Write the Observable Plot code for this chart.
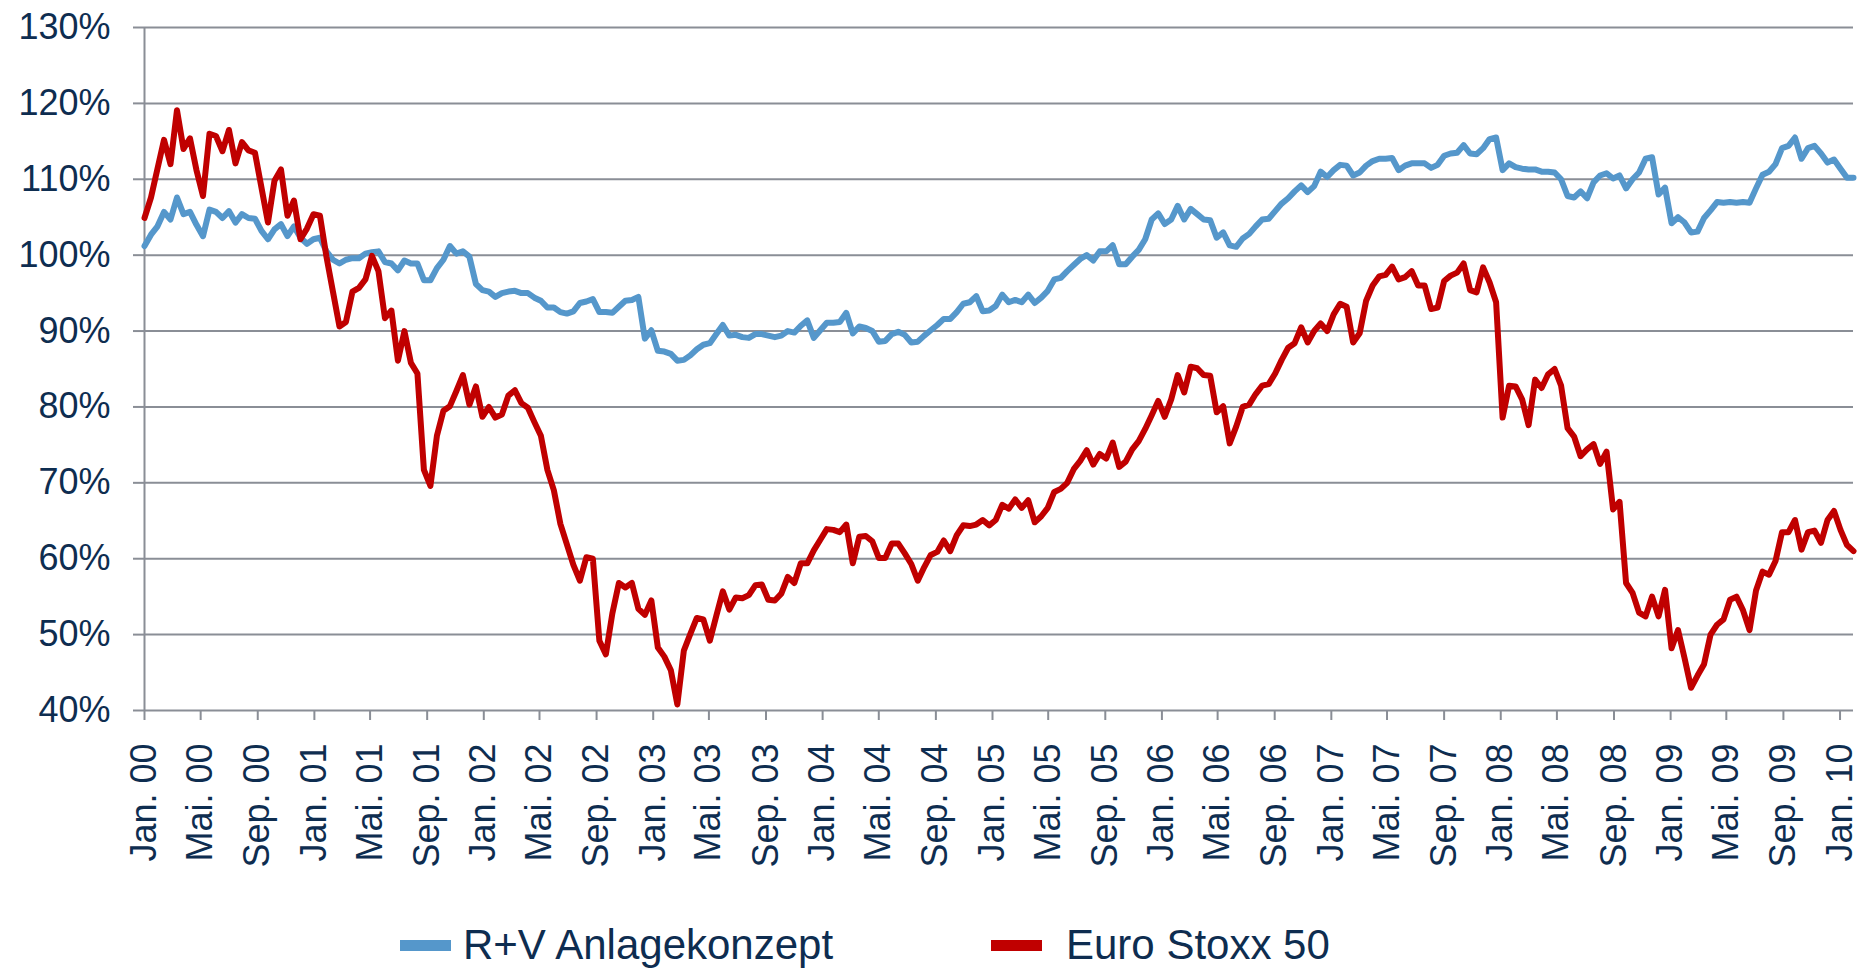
<!DOCTYPE html>
<html>
<head>
<meta charset="utf-8">
<script src="https://cdn.jsdelivr.net/npm/d3@7"></script>
<script src="https://cdn.jsdelivr.net/npm/@observablehq/plot@0.6"></script>
<style>
  html, body { margin: 0; padding: 0; background: #ffffff; }
  #chart { width: 1872px; }
  #legend { position: relative; width: 1872px; height: 50px; font-family: "Liberation Sans", Arial, sans-serif; font-size: 42px; color: #0e2d50; }
  .item { position: absolute; top: 0; height: 50px; display: flex; align-items: center; white-space: nowrap; }
  .sw { display: inline-block; width: 51px; height: 11px; }
</style>
</head>
<body>
<div id="chart"></div>
<div id="legend">
  <div class="item" style="left:400px"><span class="sw" style="background:#5597cb"></span><span style="margin-left:12px">R+V Anlagekonzept</span></div>
  <div class="item" style="left:991px"><span class="sw" style="background:#c00000"></span><span style="margin-left:24px">Euro Stoxx 50</span></div>
</div>
<script>
// Series: biweekly observations starting January 2000 (values in %)
const seriesNames = ["R+V Anlagekonzept", "Euro Stoxx 50"];
const startDate = "2000-01-01";
const stepDays = 14;

const rv = [
101.2,102.7,103.8,105.7,104.7,107.6,105.4,105.7,104,102.5,
106,105.7,104.9,105.8,104.3,105.4,104.9,104.8,103.2,102.1,
103.4,104.1,102.5,103.8,102.3,101.5,102.1,102.3,100.5,99.4,
98.9,99.4,99.6,99.6,100.2,100.4,100.5,99.1,98.9,98,
99.3,98.9,98.9,96.7,96.7,98.3,99.4,101.2,100.2,100.5,
99.8,96.2,95.4,95.2,94.5,95,95.2,95.3,95,95,
94.4,94,93.1,93.1,92.5,92.3,92.6,93.7,93.9,94.2,
92.5,92.5,92.4,93.2,94,94.1,94.5,89,90.1,87.4,
87.3,87,86.1,86.2,86.8,87.6,88.2,88.4,89.6,90.8,
89.4,89.5,89.2,89.1,89.6,89.6,89.4,89.2,89.4,90,
89.8,90.7,91.4,89.1,90.1,91.1,91.1,91.2,92.4,89.7,
90.6,90.4,90,88.6,88.7,89.6,89.9,89.5,88.5,88.6,
89.4,90.1,90.8,91.6,91.6,92.5,93.6,93.8,94.6,92.6,
92.7,93.3,94.8,93.8,94.1,93.8,94.8,93.7,94.4,95.3,
96.8,97,97.9,98.7,99.5,100,99.3,100.5,100.5,101.3,
98.8,98.8,99.8,100.7,102.1,104.7,105.5,104.1,104.7,106.5,
104.7,106.1,105.4,104.7,104.6,102.3,103,101.3,101.1,102.2,
102.8,103.8,104.7,104.8,105.8,106.8,107.5,108.4,109.2,108.3,
109.1,111,110.3,111.2,111.9,111.8,110.5,110.9,111.8,112.4,
112.7,112.7,112.8,111.2,111.8,112.1,112.1,112.1,111.5,111.9,
113.1,113.4,113.5,114.5,113.4,113.3,114.1,115.3,115.5,111.2,
112.1,111.6,111.4,111.3,111.3,111,111,110.9,110,107.8,
107.6,108.4,107.5,109.6,110.5,110.8,110.1,110.5,108.8,110,
110.9,112.7,112.9,108,108.9,104.2,105,104.3,103,103.1,
104.9,105.9,107,106.9,107,106.9,107,106.9,108.8,110.6,
111,112,114.1,114.4,115.5,112.7,114.1,114.4,113.4,112.2,
112.6,111.4,110.2,110.2
];

const es = [
104.9,107.6,111.4,115.2,112,119.1,114,115.4,111.2,107.8,
116,115.7,113.7,116.5,112.1,114.9,113.8,113.5,108.9,104.3,
109.8,111.3,105.2,107.2,102.1,103.5,105.4,105.2,99.8,95.2,
90.6,91.2,95.2,95.7,96.8,99.9,97.9,91.7,92.7,86.1,
90,85.8,84.4,71.7,69.6,76.2,79.5,80.1,82.1,84.2,
80.3,82.7,78.7,80,78.6,79,81.5,82.2,80.5,79.9,
78,76.2,71.7,69,64.6,61.9,59.2,57.1,60.2,60,
49.2,47.4,52.8,56.8,56.2,56.8,53.4,52.6,54.5,48.3,
47.1,45.3,40.8,47.9,50.1,52.2,52,49.2,52.5,55.7,
53.3,54.9,54.8,55.2,56.5,56.6,54.6,54.5,55.4,57.6,
56.8,59.4,59.4,61.1,62.5,63.9,63.8,63.5,64.5,59.4,
62.9,63,62.3,60.1,60.1,62,62,60.7,59.3,57.1,
58.9,60.5,60.9,62.4,61,63.1,64.4,64.3,64.5,65.1,
64.4,65.1,67.1,66.6,67.8,66.7,67.7,64.8,65.6,66.7,
68.8,69.2,70,71.8,72.9,74.3,72.4,73.8,73.2,75.3,
72.1,72.8,74.4,75.5,77.1,78.9,80.8,78.7,81,84.2,
81.9,85.3,85.1,84.2,84.1,79.3,80.1,75.2,77.4,80,
80.3,81.7,82.8,83,84.4,86.2,87.8,88.4,90.5,88.5,
90,91,90,92.2,93.6,93.2,88.5,89.7,94,96,
97.2,97.4,98.5,96.8,97.1,97.9,96,96,92.9,93.1,
96.6,97.3,97.7,98.9,95.4,95.1,98.4,96.4,93.8,78.6,
82.8,82.7,81,77.6,83.6,82.5,84.3,85,82.8,77.2,
76.1,73.5,74.4,75.1,72.5,74.1,66.5,67.5,56.8,55.5,
52.9,52.4,55,52.4,55.9,48.2,50.6,46.9,43,44.6,
46.1,50,51.3,52,54.6,55,53.2,50.6,55.8,58.3,
57.9,59.7,63.5,63.5,65.1,61.2,63.5,63.7,62.1,65.1,
66.3,63.8,61.8,61
];

// Axis ticks
const yTicks = [40, 50, 60, 70, 80, 90, 100, 110, 120, 130];
const monthLabels = ["Jan.", "Feb.", "Mrz.", "Apr.", "Mai.", "Jun.", "Jul.", "Aug.", "Sep.", "Okt.", "Nov.", "Dez."];
const xTickStarts = ["2000-01-01", "2010-01-02"];

const navy = "#0e2d50";
const gray = "#8a8e96";
const blue = "#5597cb";
const red = "#c00000";

const t0 = new Date(startDate + "T00:00:00Z");
const dates = rv.map((_, i) => d3.utcDay.offset(t0, i * stepDays));
const rows = dates.map((d, i) => ({date: d, rv: rv[i], es: es[i]}));
const xTicks = d3.utcMonth.every(4).range(new Date(xTickStarts[0] + "T00:00:00Z"), new Date(xTickStarts[1] + "T00:00:00Z"));
const fmtX = d => monthLabels[d.getUTCMonth()] + " " + String(d.getUTCFullYear() % 100).padStart(2, "0");

const chart = Plot.plot({
  width: 1872,
  height: 920,
  marginLeft: 144,
  marginRight: 19,
  marginTop: 27,
  marginBottom: 210,
  style: {fontFamily: "'Liberation Sans', Arial, sans-serif", fontSize: "36px", color: navy, background: "#ffffff"},
  x: {type: "utc", domain: [dates[0], dates[dates.length - 1]]},
  y: {domain: [40, 130]},
  marks: [
    Plot.gridY(yTicks, {stroke: gray, strokeOpacity: 1, strokeWidth: 2}),
    Plot.ruleX([dates[0]], {stroke: gray, strokeWidth: 2}),
    Plot.axisY(yTicks, {tickSize: 11, tickPadding: 23, tickFormat: d => d + "%", stroke: gray, strokeWidth: 2, fill: navy, fontSize: 36, label: null}),
    Plot.axisX(xTicks, {tickSize: 10, tickPadding: 23, tickRotate: -90, tickFormat: fmtX, stroke: gray, strokeWidth: 2, fill: navy, fontSize: 36, label: null}),
    Plot.line(rows, {x: "date", y: "rv", stroke: blue, strokeWidth: 6, strokeLinejoin: "round", strokeLinecap: "round"}),
    Plot.line(rows, {x: "date", y: "es", stroke: red, strokeWidth: 6, strokeLinejoin: "round", strokeLinecap: "round"})
  ]
});
document.getElementById("chart").appendChild(chart);
</script>
</body>
</html>
